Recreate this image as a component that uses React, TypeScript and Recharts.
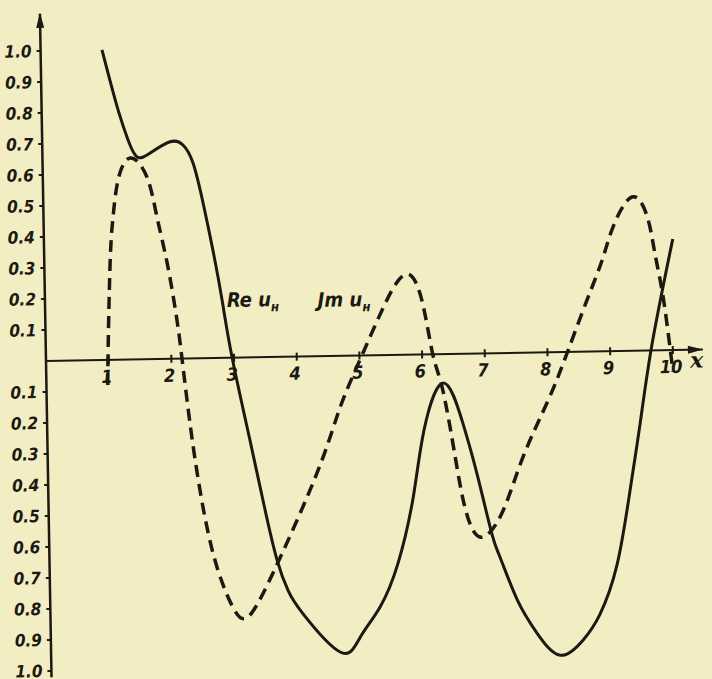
import React from 'react';
import { LineChart, Line, XAxis, YAxis, ReferenceLine, ReferenceDot } from 'recharts';

const reT = [0.98, 1.1, 1.233, 1.37, 1.51, 1.72, 2.04, 2.245, 2.4, 2.55, 2.7, 2.83, 2.97, 3.23, 3.44, 3.63, 3.8, 4.03, 4.61, 4.93, 5.26, 5.56, 5.82, 6.01, 6.33, 6.63, 6.84, 7.06, 7.19, 7.45, 7.755, 8.12, 8.49, 8.76, 9.05, 9.28, 9.46, 9.67, 10.03];
const reV = [1.0, 0.9, 0.796, 0.708, 0.653, 0.665, 0.7, 0.689, 0.63, 0.5, 0.34, 0.18, 0.0, -0.266, -0.48, -0.655, -0.755, -0.83, -0.955, -0.91, -0.812, -0.671, -0.459, -0.244, -0.093, -0.223, -0.386, -0.58, -0.66, -0.797, -0.905, -0.978, -0.93, -0.85, -0.69, -0.449, -0.233, 0.02, 0.358];

// Jm u_н (dashed curve)
const imT = [0.98, 0.99, 1.05, 1.11, 1.2, 1.4, 1.66, 1.81, 1.96, 2.1, 2.17, 2.25, 2.38, 2.61, 2.91, 3.15, 3.56, 4.29, 4.68, 5.04, 5.455, 5.78, 6.01, 6.17, 6.32, 6.5, 6.64, 6.87, 7.23, 7.58, 8.0, 8.32, 8.645, 8.9, 9.08, 9.39, 9.63, 9.74, 9.86, 9.96, 10.0];
const imV = [-0.081, 0.009, 0.313, 0.461, 0.58, 0.65, 0.588, 0.458, 0.309, 0.125, 0.0, -0.156, -0.37, -0.629, -0.804, -0.837, -0.697, -0.377, -0.165, 0.0, 0.178, 0.26, 0.176, 0.0, -0.116, -0.333, -0.495, -0.592, -0.516, -0.337, -0.154, 0.0, 0.166, 0.295, 0.4, 0.496, 0.431, 0.314, 0.172, 0.0, -0.07];

const xTicks = [1, 2, 3, 4, 5, 6, 7, 8, 9, 10];
const yTicks = [-1, -0.9, -0.8, -0.7, -0.6, -0.5, -0.4, -0.3, -0.2, -0.1, 0.1, 0.2, 0.3, 0.4, 0.5, 0.6, 0.7, 0.8, 0.9, 1];

const reData = reT.map((t, i) => ({ t, v: reV[i] }));
const imData = imT.map((t, i) => ({ t, v: imV[i] }));

const INK = '#1b1912';
const PAPER = '#f2edc2';
const FONT = "'Liberation Sans Narrow', 'DejaVu Sans Condensed', sans-serif";
const X_MAX = 10.48;
const Y_MAX = 1.12;
const Y_MIN = -1.02;

const XTick = (label: string) => (props: any) => (
  <g>
    <line x1={props.cx} y1={props.cy - 4} x2={props.cx} y2={props.cy + 4} stroke={INK} strokeWidth={2} />
    <text x={props.cx - 2} y={props.cy + 23} textAnchor="middle" fontFamily={FONT} fontWeight="bold" fontStyle="italic" fontSize={18} fill={INK}>
      {label}
    </text>
  </g>
);

const CurveLabel = (main: string) => (props: any) => (
  <text x={props.cx} y={props.cy} fontFamily={FONT} fontWeight="bold" fontStyle="italic" fontSize={20} fill={INK}>
    {main}
    <tspan fontSize={13} dy={5}>н</tspan>
  </text>
);

export default function App() {
  return (
    <div style={{ position: 'fixed', left: 0, top: 0, width: 712, height: 679, background: PAPER, overflow: 'hidden' }}>
      {/* the scan is turned by about a degree */}
      <div style={{ transform: 'rotate(-1deg)', transformOrigin: '46px 361px' }}>
        <LineChart width={712} height={679} margin={{ top: 13.8, right: 9, bottom: 1.8, left: 0 }}>
          <XAxis type="number" dataKey="t" domain={[0, X_MAX]} allowDataOverflow hide />
          <YAxis
            type="number"
            domain={[Y_MIN, Y_MAX]}
            allowDataOverflow
            ticks={yTicks}
            interval={0}
            width={46}
            axisLine={{ stroke: INK, strokeWidth: 2.5 }}
            tickLine={{ stroke: INK, strokeWidth: 2 }}
            tickSize={4}
            tickMargin={5}
            tickFormatter={(v: number) => Math.abs(v).toFixed(1)}
            tick={{ fill: INK, fontFamily: FONT, fontWeight: 'bold', fontStyle: 'italic', fontSize: 17 }}
          />
          <ReferenceLine y={0} stroke={INK} strokeWidth={2} ifOverflow="visible" />
          {xTicks.map((t) => (
            <ReferenceDot key={t} x={t} y={0} r={0} ifOverflow="visible" shape={XTick(String(t))} />
          ))}
          <ReferenceDot
            x={0}
            y={Y_MAX}
            r={0}
            ifOverflow="visible"
            shape={(p: any) => (
              <polygon points={`${p.cx},${p.cy - 1} ${p.cx - 4},${p.cy + 14} ${p.cx + 4},${p.cy + 14}`} fill={INK} />
            )}
          />
          <ReferenceDot
            x={X_MAX}
            y={0}
            r={0}
            ifOverflow="visible"
            shape={(p: any) => (
              <g>
                <polygon points={`${p.cx},${p.cy} ${p.cx - 15},${p.cy - 4} ${p.cx - 15},${p.cy + 4}`} fill={INK} />
                <text x={p.cx - 13} y={p.cy + 18} fontFamily="'DejaVu Serif', serif" fontStyle="italic" fontWeight="bold" fontSize={22} fill={INK}>
                  x
                </text>
              </g>
            )}
          />
          <ReferenceDot x={2.9} y={0.164} r={0} ifOverflow="visible" shape={CurveLabel('Re u')} />
          <ReferenceDot x={4.35} y={0.159} r={0} ifOverflow="visible" shape={CurveLabel('Jm u')} />
          <Line
            data={imData}
            dataKey="v"
            type="natural"
            stroke={INK}
            strokeWidth={3.5}
            strokeDasharray="12 7"
            dot={false}
            isAnimationActive={false}
          />
          <Line data={reData} dataKey="v" type="natural" stroke={INK} strokeWidth={3} dot={false} isAnimationActive={false} />
        </LineChart>
      </div>
    </div>
  );
}
